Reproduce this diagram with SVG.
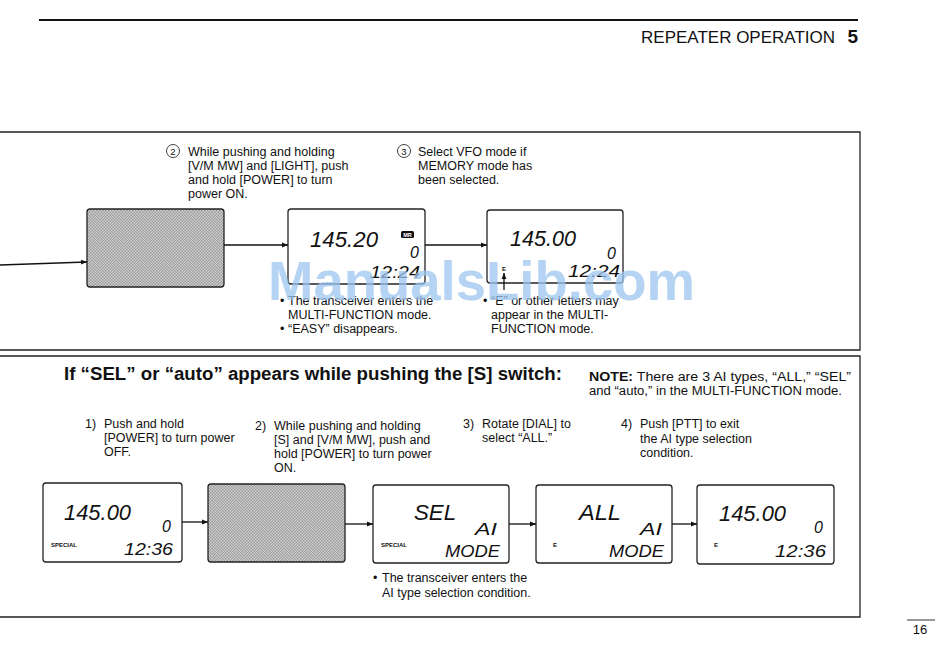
<svg xmlns="http://www.w3.org/2000/svg" width="950" height="668" viewBox="0 0 950 668">
<style>
.t{font-family:"Liberation Sans",Arial,sans-serif;font-size:12.5px;fill:#111}
.c{font-family:"Liberation Sans Narrow","Liberation Sans",Arial,sans-serif;fill:#111}
.lcd{fill:#fff;stroke:#222;stroke-width:1.3}
.gray{fill:url(#dots);stroke:#222;stroke-width:1.3}
.seg{font-family:"Liberation Sans",Arial,sans-serif;font-style:italic;fill:#111}
.sm{font-family:"Liberation Sans",Arial,sans-serif;font-weight:bold;font-size:6px;fill:#111}
.frame{fill:none;stroke:#222;stroke-width:1.3}
.conn line{stroke:#111;stroke-width:1.3;marker-end:url(#ah)}
</style>
<defs>
<marker id="ah" viewBox="0 0 10 10" refX="10" refY="5" markerWidth="8" markerHeight="6" markerUnits="userSpaceOnUse" orient="auto"><path d="M0,1 L10,5 L0,9 Z" fill="#111"/></marker>
<pattern id="dots" width="3" height="3" patternUnits="userSpaceOnUse"><rect width="3" height="3" fill="#d0d0d0"/><rect width="1.5" height="1.5" fill="#9a9a9a"/><rect x="1.5" y="1.5" width="1.5" height="1.5" fill="#9a9a9a"/></pattern>
</defs>
<rect width="950" height="668" fill="#fff"/>

<g id="header">
<line x1="39" y1="20" x2="858" y2="20" stroke="#111" stroke-width="2"/>
<text class="t" x="835" y="43" text-anchor="end" style="font-size:17px">REPEATER OPERATION</text>
<text class="t" x="858" y="43" text-anchor="end" style="font-size:19px;font-weight:bold">5</text>
</g>

<g id="frames">
<polyline class="frame" points="0,132 860,132 860,350 0,350"/>
<polyline class="frame" points="0,356 860,356 860,617 0,617"/>
<line x1="907" y1="620" x2="935" y2="620" stroke="#333" stroke-width="1"/>
<text class="c" x="920" y="634" text-anchor="middle" style="font-size:13px">16</text>
</g>

<g id="step2-top">
<circle cx="173" cy="151" r="6.5" fill="none" stroke="#111" stroke-width="0.8"/>
<text class="t" x="173" y="154.5" text-anchor="middle" style="font-size:9.5px">2</text>
<text class="t" x="188" y="156">While pushing and holding</text>
<text class="t" x="188" y="170">[V/M MW] and [LIGHT], push</text>
<text class="t" x="188" y="184">and hold [POWER] to turn</text>
<text class="t" x="188" y="198">power ON.</text>
</g>
<g id="step3-top">
<circle cx="404" cy="151" r="6.5" fill="none" stroke="#111" stroke-width="0.8"/>
<text class="t" x="404" y="154.5" text-anchor="middle" style="font-size:9.5px">3</text>
<text class="t" x="418" y="156">Select VFO mode if</text>
<text class="t" x="418" y="170">MEMORY mode has</text>
<text class="t" x="418" y="184">been selected.</text>
</g>

<g id="gray-top">
<rect class="gray" x="87" y="209" width="137" height="78" rx="3"/>
</g>

<g id="lcd-top1">
<rect class="lcd" x="288" y="209" width="137" height="75" rx="3"/>
<text class="seg" x="310" y="247" textLength="68" lengthAdjust="spacingAndGlyphs" style="font-size:22px">145.20</text>
<rect x="401" y="231" width="13" height="7" rx="1.5" fill="#111"/>
<text x="407.5" y="237" text-anchor="middle" style="font-family:'Liberation Sans',sans-serif;font-size:5.5px;font-weight:bold;fill:#fff">MR</text>
<text class="seg" x="410" y="258" style="font-size:16px">0</text>
<text class="seg" x="370" y="278" textLength="50" lengthAdjust="spacingAndGlyphs" style="font-size:17px">12:24</text>
</g>

<g id="lcd-top2">
<rect class="lcd" x="487" y="210" width="136" height="73" rx="3"/>
<text class="seg" x="510" y="246" textLength="66" lengthAdjust="spacingAndGlyphs" style="font-size:22px">145.00</text>
<text class="seg" x="607" y="259" style="font-size:16px">0</text>
<text class="sm" x="502" y="271">E</text>
<text class="seg" x="568" y="277" textLength="52" lengthAdjust="spacingAndGlyphs" style="font-size:17px">12:24</text>
</g>

<g id="note-top1">
<text class="t" x="280" y="305">•</text>
<text class="t" x="288" y="305">The transceiver enters the</text>
<text class="t" x="288" y="319">MULTI-FUNCTION mode.</text>
<text class="t" x="280" y="333">•</text>
<text class="t" x="288" y="333">“EASY” disappears.</text>
</g>
<g id="note-top2">
<text class="t" x="483" y="305">•</text>
<text class="t" x="491" y="305">“E” or other letters may</text>
<text class="t" x="491" y="319">appear in the MULTI-</text>
<text class="t" x="491" y="333">FUNCTION mode.</text>
</g>

<g id="heading">
<text class="c" x="64" y="380" textLength="498" lengthAdjust="spacingAndGlyphs" style="font-size:18px;font-weight:bold">If “SEL” or “auto” appears while pushing the [S] switch:</text>
</g>
<g id="note">
<text class="c" x="589" y="381" textLength="262" lengthAdjust="spacingAndGlyphs" style="font-size:12.5px"><tspan font-weight="bold">NOTE:</tspan> There are 3 AI types, “ALL,” “SEL”</text>
<text class="c" x="589" y="395" textLength="253" lengthAdjust="spacingAndGlyphs" style="font-size:12.5px">and “auto,” in the MULTI-FUNCTION mode.</text>
</g>

<g id="step1">
<text class="c" x="85" y="428" style="font-size:12.5px">1)</text>
<text class="c" x="104" y="428" style="font-size:12.5px">Push and hold</text>
<text class="c" x="104" y="442" style="font-size:12.5px">[POWER] to turn power</text>
<text class="c" x="104" y="456" style="font-size:12.5px">OFF.</text>
</g>
<g id="step2">
<text class="c" x="255" y="430" style="font-size:12.5px">2)</text>
<text class="c" x="274" y="430" style="font-size:12.5px">While pushing and holding</text>
<text class="c" x="274" y="444" style="font-size:12.5px">[S] and [V/M MW], push and</text>
<text class="c" x="274" y="458" style="font-size:12.5px">hold [POWER] to turn power</text>
<text class="c" x="274" y="472" style="font-size:12.5px">ON.</text>
</g>
<g id="step3">
<text class="c" x="463" y="428" style="font-size:12.5px">3)</text>
<text class="c" x="482" y="428" style="font-size:12.5px">Rotate [DIAL] to</text>
<text class="c" x="482" y="442" style="font-size:12.5px">select “ALL.”</text>
</g>
<g id="step4">
<text class="c" x="621" y="428" style="font-size:12.5px">4)</text>
<text class="c" x="640" y="428" style="font-size:12.5px">Push [PTT] to exit</text>
<text class="c" x="640" y="443" style="font-size:12.5px">the AI type selection</text>
<text class="c" x="640" y="457" style="font-size:12.5px">condition.</text>
</g>

<g id="lcd-b1">
<rect class="lcd" x="43" y="483" width="139" height="79" rx="3"/>
<text class="seg" x="64" y="520" textLength="67" lengthAdjust="spacingAndGlyphs" style="font-size:22px">145.00</text>
<text class="seg" x="162" y="532" style="font-size:16px">0</text>
<text class="sm" x="51" y="547">SPECIAL</text>
<text class="seg" x="124" y="555" textLength="49" lengthAdjust="spacingAndGlyphs" style="font-size:17px">12:36</text>
</g>
<g id="gray-b">
<rect class="gray" x="208" y="484" width="137" height="78" rx="3"/>
</g>
<g id="lcd-b3">
<rect class="lcd" x="373" y="485" width="136" height="78" rx="3"/>
<text class="seg" x="414" y="520" textLength="42" lengthAdjust="spacingAndGlyphs" style="font-size:22px">SEL</text>
<text class="seg" x="475" y="535" textLength="22" lengthAdjust="spacingAndGlyphs" style="font-size:16px">AI</text>
<text class="sm" x="381" y="547">SPECIAL</text>
<text class="seg" x="445" y="557" textLength="55" lengthAdjust="spacingAndGlyphs" style="font-size:17px">MODE</text>
</g>
<g id="lcd-b4">
<rect class="lcd" x="536" y="485" width="136" height="78" rx="3"/>
<text class="seg" x="579" y="520" textLength="42" lengthAdjust="spacingAndGlyphs" style="font-size:22px">ALL</text>
<text class="seg" x="640" y="535" textLength="22" lengthAdjust="spacingAndGlyphs" style="font-size:16px">AI</text>
<text class="sm" x="553" y="547">E</text>
<text class="seg" x="609" y="557" textLength="55" lengthAdjust="spacingAndGlyphs" style="font-size:17px">MODE</text>
</g>
<g id="lcd-b5">
<rect class="lcd" x="697" y="485" width="137" height="79" rx="3"/>
<text class="seg" x="719" y="521" textLength="67" lengthAdjust="spacingAndGlyphs" style="font-size:22px">145.00</text>
<text class="seg" x="814" y="533" style="font-size:16px">0</text>
<text class="sm" x="714" y="547">E</text>
<text class="seg" x="775" y="557" textLength="51" lengthAdjust="spacingAndGlyphs" style="font-size:17px">12:36</text>
</g>

<g id="note-bottom">
<text class="t" x="373" y="582">•</text>
<text class="t" x="382" y="582">The transceiver enters the</text>
<text class="t" x="382" y="597">AI type selection condition.</text>
</g>

<g class="conn" id="connectors">
<line x1="0" y1="265" x2="87" y2="262"/>
<line x1="224" y1="245" x2="288" y2="245"/>
<line x1="425" y1="245" x2="487" y2="245"/>
<line x1="504" y1="290" x2="504" y2="273"/>
<line x1="182" y1="522" x2="208" y2="522"/>
<line x1="345" y1="524" x2="373" y2="524"/>
<line x1="509" y1="524" x2="536" y2="524"/>
<line x1="672" y1="524" x2="697" y2="524"/>
</g>

<g id="watermark">
<text x="268" y="300" textLength="427" lengthAdjust="spacingAndGlyphs" style="font-family:'Liberation Sans',Arial,sans-serif;font-weight:bold;font-size:56px;fill:#9cc4ee;fill-opacity:0.75">ManualsLib.com</text>
</g>
</svg>
